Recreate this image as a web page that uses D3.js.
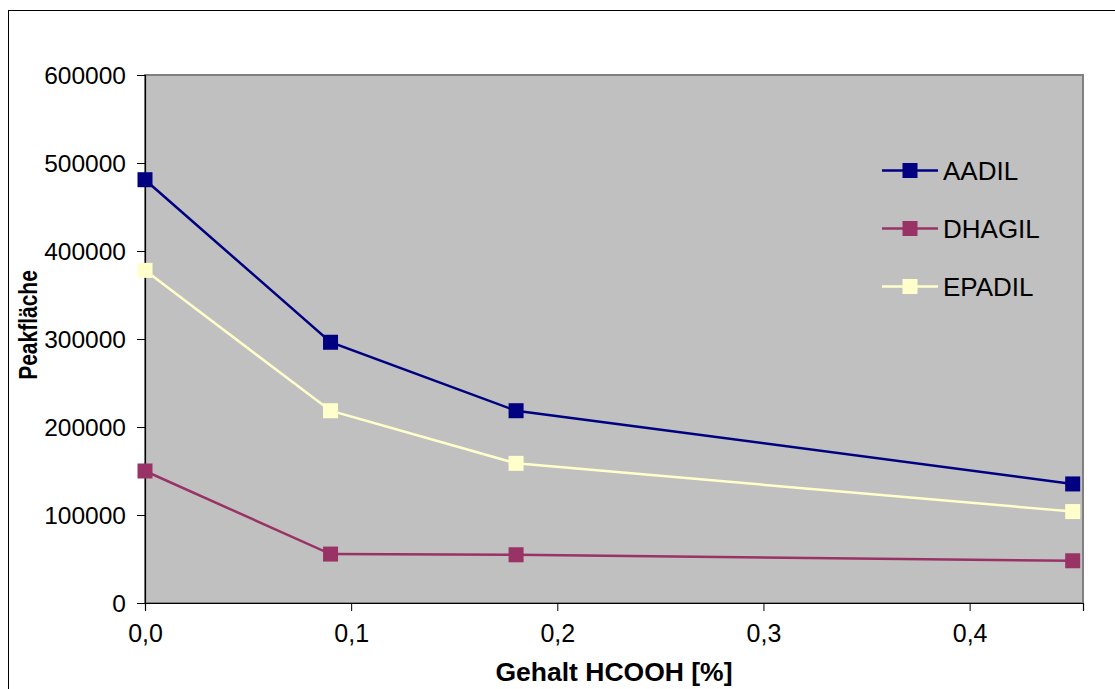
<!DOCTYPE html>
<html><head><meta charset="utf-8">
<script src="https://cdn.jsdelivr.net/npm/d3@7"></script>
<style>body{margin:0;background:#fff}svg{display:block}text{font-family:"Liberation Sans",Arial,sans-serif;fill:#000}</style>
</head><body>
<svg id="c" width="1115" height="689"></svg>
<script>
const xValues = [0, 0.09, 0.18, 0.45];
const seriesNames = ["AADIL", "DHAGIL", "EPADIL"];
const seriesColors = ["#000080", "#993366", "#FFFFCC"];
const aadil = [481000, 296300, 218500, 135300];
const dhagil = [150000, 55600, 54800, 48000];
const epadil = [378000, 218500, 158700, 103900];
const yTicks = [0, 100000, 200000, 300000, 400000, 500000, 600000];
const xTicks = [0, 0.1, 0.2, 0.3, 0.4];
const xTitle = "Gehalt HCOOH [%]";
const yTitle = "Peakfläche";

const series = [aadil, dhagil, epadil];
const svg = d3.select("#c");
const L = 145, R = 1083, T = 75, B = 603;
const x = d3.scaleLinear().domain([0, 0.455]).range([L, R]);
const y = d3.scaleLinear().domain([0, 600000]).range([B, T]);

// outer frame
svg.append("rect").attr("x", 8.5).attr("y", 10.5).attr("width", 1130).attr("height", 700)
  .attr("fill", "#fff").attr("stroke", "#000").attr("stroke-width", 1);

// plot area
svg.append("rect").attr("x", L).attr("y", T).attr("width", R - L).attr("height", B - T)
  .attr("fill", "#C0C0C0").attr("stroke", "#808080").attr("stroke-width", 2);

// axes
const yAxis = d3.axisLeft(y).tickValues(yTicks).tickSize(8).tickPadding(11).tickFormat(d3.format("d"));
const gy = svg.append("g").attr("transform", `translate(${L},0)`).call(yAxis);
gy.select(".domain").attr("stroke", "#000").attr("stroke-width", 1.2);
gy.selectAll("line").attr("stroke", "#000");
gy.selectAll("text").style("font-size", "24.5px").attr("dy", "0.36em");

const xAxis = d3.axisBottom(x).tickValues(xTicks).tickSize(8).tickPadding(13)
  .tickFormat(d => d3.format(".1f")(d).replace(".", ","));
const gx = svg.append("g").attr("transform", `translate(0,${B})`).call(xAxis);
gx.select(".domain").attr("stroke", "#000").attr("stroke-width", 1.2);
gx.selectAll("line").attr("stroke", "#000");
gx.selectAll("text").style("font-size", "25px").attr("dy", "0.71em");

// titles
svg.append("text").attr("x", 614).attr("y", 681).attr("text-anchor", "middle")
  .style("font-size", "26.5px").style("font-weight", "bold").text(xTitle);
svg.append("text").attr("transform", "translate(37,325) rotate(-90) scale(1,1.25)").attr("text-anchor", "middle")
  .style("font-size", "21px").style("font-weight", "bold").text(yTitle);

// series
const line = d3.line().x((d, i) => x(xValues[i])).y(d => y(d));
series.forEach((vals, si) => {
  svg.append("path").datum(vals).attr("d", line).attr("fill", "none")
    .attr("stroke", seriesColors[si]).attr("stroke-width", 2.5);
  svg.selectAll(null).data(vals).enter().append("rect")
    .attr("x", (d, i) => x(xValues[i]) - 7.5).attr("y", d => y(d) - 7.5)
    .attr("width", 15).attr("height", 15).attr("fill", seriesColors[si]);
});

// legend
const legY = [170.5, 228.5, 286.5];
seriesNames.forEach((n, i) => {
  const g = svg.append("g");
  g.append("line").attr("x1", 882).attr("x2", 938).attr("y1", legY[i]).attr("y2", legY[i])
    .attr("stroke", seriesColors[i]).attr("stroke-width", 2.5);
  g.append("rect").attr("x", 910 - 7.5).attr("y", legY[i] - 7.5).attr("width", 15).attr("height", 15)
    .attr("fill", seriesColors[i]);
  g.append("text").attr("x", 943).attr("y", legY[i]).attr("dy", "0.36em")
    .style("font-size", "26px").text(n);
});
</script>
</body></html>
